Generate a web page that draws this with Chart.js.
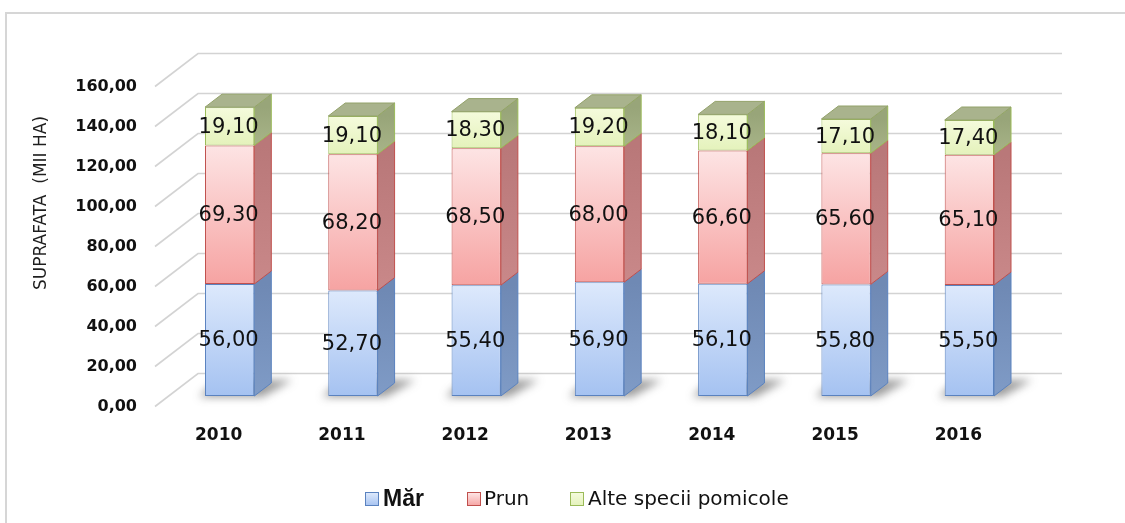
<!DOCTYPE html>
<html>
<head>
<meta charset="utf-8">
<script src="https://cdn.jsdelivr.net/npm/chart.js@4"></script>
<style>
  html, body { margin: 0; padding: 0; background: #fff; }
  #wrap { position: relative; width: 1125px; height: 523px; }
</style>
</head>
<body>
<div id="wrap"><canvas id="myChart" width="1125" height="523"></canvas></div>
<script>
const years = ["2010", "2011", "2012", "2013", "2014", "2015", "2016"];
const mar = [56.00, 52.70, 55.40, 56.90, 56.10, 55.80, 55.50];
const prun = [69.30, 68.20, 68.50, 68.00, 66.60, 65.60, 65.10];
const alte = [19.10, 19.10, 18.30, 19.20, 18.10, 17.10, 17.40];
const seriesNames = ["Măr", "Prun", "Alte specii pomicole"];
const yTicks = [0, 20, 40, 60, 80, 100, 120, 140, 160];

const series = [mar, prun, alte];

// front / side / border colours per series
const fronts = [["#dde9fc", "#a5c2f1"], ["#fde4e4", "#f6a3a2"], ["#f5fbdc", "#e4f2bb"]];
const sides = [["#6f89b4", "#7f9bc6"], ["#b97879", "#c98889"], ["#98a579", "#a8b488"]];
const borders = ["#5a82bf", "#c0504d", "#9bbb59"];
const topFace = "#a9b38d";

const DX = 17, DY = -13; // bar depth

const fmt = v => v.toFixed(2).replace(".", ",");

function frontFill(d) {
  return (c) => {
    if (c.type !== "data") return fronts[d][1];
    const y = c.chart.scales.y;
    const i = c.dataIndex;
    let base = 0;
    for (let k = 0; k < d; k++) base += series[k][i];
    const top = y.getPixelForValue(base + series[d][i]);
    const bot = y.getPixelForValue(base);
    if (!isFinite(top) || !isFinite(bot)) return fronts[d][1];
    const g = c.chart.ctx.createLinearGradient(0, top, 0, bot);
    g.addColorStop(0, fronts[d][0]);
    g.addColorStop(1, fronts[d][1]);
    return g;
  };
}

const box3d = {
  id: "box3d",
  beforeDraw(chart) {
    const c = chart.ctx;
    c.save();
    c.fillStyle = "#fff";
    c.fillRect(0, 0, chart.width, chart.height);
    // outer frame (top + left)
    c.strokeStyle = "#d6d6d6";
    c.lineWidth = 2;
    c.beginPath();
    c.moveTo(6, 524);
    c.lineTo(6, 13);
    c.lineTo(1125, 13);
    c.stroke();
    c.restore();
  },
  beforeDatasetsDraw(chart) {
    const c = chart.ctx;
    const y = chart.scales.y;
    const a = chart.chartArea;
    c.save();
    c.strokeStyle = "#d3d3d3";
    c.lineWidth = 1.6;
    yTicks.forEach(v => {
      const fy = y.getPixelForValue(v);
      const by = fy - 22.5;
      c.beginPath();
      c.moveTo(a.left - 13, fy + 10.5);
      c.lineTo(a.left + 30, by);
      c.lineTo(a.right + 31, by);
      c.stroke();
    });
    // floor shadows
    const meta = chart.getDatasetMeta(0);
    meta.data.forEach(el => {
      const p = el.getProps(["x", "base", "width"], true);
      const l = p.x - p.width / 2, r = p.x + p.width / 2;
      c.save();
      c.filter = "blur(4px)";
      c.fillStyle = "rgba(60,60,60,0.5)";
      c.beginPath();
      c.moveTo(l - 6, p.base + 1);
      c.lineTo(r + 8, p.base + 1);
      c.lineTo(r + 38, p.base - 16);
      c.lineTo(l + 12, p.base - 16);
      c.closePath();
      c.fill();
      c.restore();
    });
    c.restore();
  },
  afterDatasetsDraw(chart) {
    const c = chart.ctx;
    c.save();
    const n = chart.data.datasets.length;
    for (let d = 0; d < n; d++) {
      const meta = chart.getDatasetMeta(d);
      meta.data.forEach((el, i) => {
        const p = el.getProps(["x", "y", "base", "width"], true);
        const r = p.x + p.width / 2, l = p.x - p.width / 2;
        // side face
        const g = c.createLinearGradient(0, p.y, 0, p.base);
        g.addColorStop(0, sides[d][0]);
        g.addColorStop(1, sides[d][1]);
        c.fillStyle = g;
        c.beginPath();
        c.moveTo(r, p.base);
        c.lineTo(r, p.y);
        c.lineTo(r + DX, p.y + DY);
        c.lineTo(r + DX, p.base + DY);
        c.closePath();
        c.fill();
        c.strokeStyle = borders[d];
        c.lineWidth = 1;
        c.stroke();
        if (d === n - 1) {
          c.fillStyle = topFace;
          c.beginPath();
          c.moveTo(l, p.y);
          c.lineTo(r, p.y);
          c.lineTo(r + DX, p.y + DY);
          c.lineTo(l + DX, p.y + DY);
          c.closePath();
          c.fill();
          c.strokeStyle = "#93a26a";
          c.stroke();
        }
      });
    }
    // value labels
    c.fillStyle = "#111";
    c.font = "21px 'DejaVu Sans'";
    c.textAlign = "center";
    c.textBaseline = "middle";
    for (let d = 0; d < n; d++) {
      const meta = chart.getDatasetMeta(d);
      meta.data.forEach((el, i) => {
        const p = el.getProps(["x", "y", "base"], true);
        c.fillText(fmt(series[d][i]), p.x - 1, (p.y + p.base) / 2 + 1);
      });
    }
    c.restore();
  },
  afterDraw(chart) {
    const c = chart.ctx;
    c.save();
    // axis title
    c.translate(42, 203);
    c.rotate(-Math.PI / 2);
    c.fillStyle = "#1e1e1e";
    c.font = "17px 'DejaVu Sans'";
    c.textAlign = "center";
    c.textBaseline = "middle";
    c.fillText("SUPRAFATA  (MII HA)", 0, 0);
    c.restore();

    // legend
    c.save();
    const items = [
      { box: 365, text: 383, font: "bold 23px 'Liberation Sans'" },
      { box: 467, text: 484, font: "20px 'DejaVu Sans'" },
      { box: 570, text: 588, font: "20px 'DejaVu Sans'" }
    ];
    const ly = 499;
    items.forEach((it, k) => {
      const g = c.createLinearGradient(0, ly - 6, 0, ly + 7);
      g.addColorStop(0, fronts[k][0]);
      g.addColorStop(1, fronts[k][1]);
      c.fillStyle = g;
      c.fillRect(it.box + 0.5, ly - 6.5, 13, 13);
      c.strokeStyle = borders[k];
      c.lineWidth = 1;
      c.strokeRect(it.box + 0.5, ly - 6.5, 13, 13);
      c.fillStyle = "#111";
      c.font = it.font;
      c.textAlign = "left";
      c.textBaseline = "middle";
      c.fillText(seriesNames[k], it.text, ly + 1);
    });
    c.restore();
  }
};

new Chart(document.getElementById("myChart"), {
  type: "bar",
  data: {
    labels: years,
    datasets: series.map((s, d) => ({
      label: seriesNames[d],
      data: s,
      backgroundColor: frontFill(d),
      borderColor: borders[d],
      borderWidth: 1,
      borderSkipped: false,
      categoryPercentage: 1,
      barPercentage: 0.4
    }))
  },
  options: {
    responsive: false,
    animation: false,
    devicePixelRatio: 1,
    layout: { padding: { top: 76, right: 94, left: 0, bottom: 0 } },
    plugins: {
      legend: { display: false },
      tooltip: { enabled: false }
    },
    scales: {
      x: {
        stacked: true,
        grid: { display: false, drawTicks: false },
        border: { display: false },
        ticks: {
          color: "#111",
          font: { family: "'DejaVu Sans'", size: 17, weight: "bold" },
          padding: 29,
          labelOffset: -11
        },
        afterFit: s => { s.height = 127; }
      },
      y: {
        stacked: true,
        min: 0,
        max: 160,
        grid: { display: false, drawTicks: false },
        border: { display: false },
        ticks: {
          stepSize: 20,
          color: "#111",
          font: { family: "'DejaVu Sans'", size: 16, weight: "bold" },
          padding: 31,
          labelOffset: 10.5,
          callback: v => fmt(v)
        },
        afterFit: s => { s.width = 168; }
      }
    }
  },
  plugins: [box3d]
});
</script>
</body>
</html>
